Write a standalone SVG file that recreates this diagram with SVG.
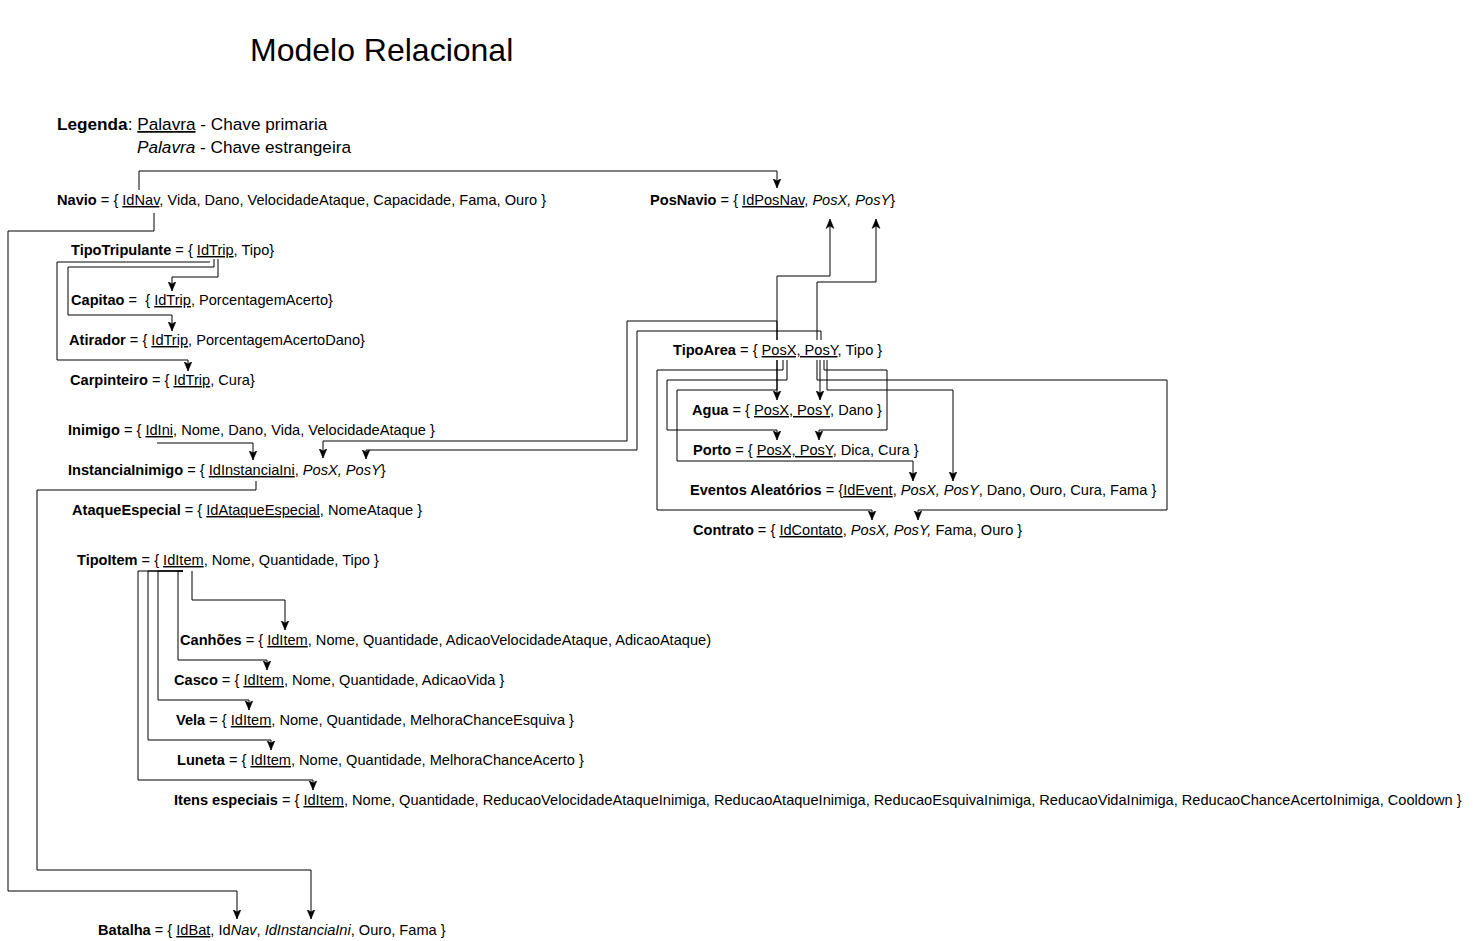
<svg xmlns="http://www.w3.org/2000/svg" width="1476" height="941" viewBox="0 0 1476 941">
<style>
text{font-family:"Liberation Sans",Arial,Helvetica,sans-serif;fill:#000;white-space:pre}
.t{font-size:14.6px}
.b{font-weight:bold}
.u{text-decoration:underline}
.i{font-style:italic}
.e{fill:none;stroke:#000;stroke-width:1;marker-end:url(#arr)}
</style>
<defs>
<marker id="arr" markerUnits="userSpaceOnUse" markerWidth="10" markerHeight="10" viewBox="0 0 10 10" refX="9.5" refY="5" orient="auto">
<path d="M0,1 L9.5,5 L0,9 L2.5,5 z" fill="#000" stroke="#000" stroke-width="0.5" stroke-linejoin="miter"/>
</marker>
</defs>
<rect width="1476" height="941" fill="#fff"/>
<g id="title"><text x="250" y="61" style="font-size:32px">Modelo Relacional</text></g>
<g id="legenda">
<text x="57" y="130" style="font-size:17.2px"><tspan class="b">Legenda</tspan>: <tspan class="u">Palavra</tspan> - Chave primaria</text>
<text x="137" y="153" style="font-size:17.2px"><tspan class="i">Palavra</tspan> - Chave estrangeira</text>
</g>
<g id="connectors">
<path class="e" d="M139,190 V171 H777 V188"/>
<path class="e" d="M154,213 V231 H8 V891 H237 V919"/>
<path class="e" d="M256,481 V490 H37 V870 H311 V919"/>
<path class="e" d="M157,443 H253 V460"/>
<path class="e" d="M777,340 V321 H627 V441 H323 V458"/>
<path class="e" d="M821,340 V331 H637 V450 H366 V459"/>
<path class="e" d="M777,340 V276 H830 V219"/>
<path class="e" d="M817,340 V282 H876 V219"/>
<path class="e" d="M777,360 V400"/>
<path class="e" d="M820,360 V400"/>
<path class="e" d="M783,360 V370 H657 V510 H872 V520"/>
<path class="e" d="M787,360 V380 H667 V430 H777 V440"/>
<path class="e" d="M777,360 V390 H677 V461 H913 V481"/>
<path class="e" d="M817,360 V380 H1167 V510 H918 V520"/>
<path class="e" d="M824,360 V370 H887 V430 H819 V440"/>
<path class="e" d="M827,360 V390 H953 V481"/>
<path class="e" d="M218,259 V277 H172 V291"/>
<path class="e" d="M214,259 V267 H68 V315 H172 V331"/>
<path class="e" d="M210,262 H57 V360 H188 V371"/>
<path class="e" d="M192,571 V600 H285 V630"/>
<path class="e" d="M183,571 H178 V660 H267 V670"/>
<path class="e" d="M183,571 H158 V700 H249 V710"/>
<path class="e" d="M183,571 H148 V740 H271 V750"/>
<path class="e" d="M183,571 H138 V780 H313 V790"/>
</g>
<g id="navio"><text class="t" x="57" y="205"><tspan class="b">Navio</tspan> = { <tspan class="u">IdNav</tspan>, Vida, Dano, VelocidadeAtaque, Capacidade, Fama, Ouro }</text></g>
<g id="posnavio"><text class="t" x="650" y="205"><tspan class="b">PosNavio</tspan> = { <tspan class="u">IdPosNav</tspan>, <tspan class="i">PosX, PosY</tspan>}</text></g>
<g id="tipotripulante"><text class="t" x="71" y="255"><tspan class="b">TipoTripulante</tspan> = { <tspan class="u">IdTrip</tspan>, Tipo}</text></g>
<g id="capitao"><text class="t" x="71" y="305"><tspan class="b">Capitao</tspan> =  { <tspan class="u">IdTrip</tspan>, PorcentagemAcerto}</text></g>
<g id="atirador"><text class="t" x="69" y="345"><tspan class="b">Atirador</tspan> = { <tspan class="u">IdTrip</tspan>, PorcentagemAcertoDano}</text></g>
<g id="carpinteiro"><text class="t" x="70" y="385"><tspan class="b">Carpinteiro</tspan> = { <tspan class="u">IdTrip</tspan>, Cura}</text></g>
<g id="inimigo"><text class="t" x="68" y="435"><tspan class="b">Inimigo</tspan> = { <tspan class="u">IdIni</tspan>, Nome, Dano, Vida, VelocidadeAtaque }</text></g>
<g id="instanciainimigo"><text class="t" x="68" y="475"><tspan class="b">InstanciaInimigo</tspan> = { <tspan class="u">IdInstanciaIni</tspan>, <tspan class="i">PosX, PosY</tspan>}</text></g>
<g id="ataqueespecial"><text class="t" x="72" y="515"><tspan class="b">AtaqueEspecial</tspan> = { <tspan class="u">IdAtaqueEspecial</tspan>, NomeAtaque }</text></g>
<g id="tipoitem"><text class="t" x="77" y="565"><tspan class="b">TipoItem</tspan> = { <tspan class="u">IdItem</tspan>, Nome, Quantidade, Tipo }</text></g>
<g id="canhoes"><text class="t" x="180" y="645"><tspan class="b">Canhões</tspan> = { <tspan class="u">IdItem</tspan>, Nome, Quantidade, AdicaoVelocidadeAtaque, AdicaoAtaque)</text></g>
<g id="casco"><text class="t" x="174" y="685"><tspan class="b">Casco</tspan> = { <tspan class="u">IdItem</tspan>, Nome, Quantidade, AdicaoVida }</text></g>
<g id="vela"><text class="t" x="176" y="725"><tspan class="b">Vela</tspan> = { <tspan class="u">IdItem</tspan>, Nome, Quantidade, MelhoraChanceEsquiva }</text></g>
<g id="luneta"><text class="t" x="177" y="765"><tspan class="b">Luneta</tspan> = { <tspan class="u">IdItem</tspan>, Nome, Quantidade, MelhoraChanceAcerto }</text></g>
<g id="itensespeciais"><text class="t" x="174" y="805"><tspan class="b">Itens especiais</tspan> = { <tspan class="u">IdItem</tspan>, Nome, Quantidade, ReducaoVelocidadeAtaqueInimiga, ReducaoAtaqueInimiga, ReducaoEsquivaInimiga, ReducaoVidaInimiga, ReducaoChanceAcertoInimiga, Cooldown }</text></g>
<g id="batalha"><text class="t" x="98" y="935"><tspan class="b">Batalha</tspan> = { <tspan class="u">IdBat</tspan>, Id<tspan class="i">Nav</tspan>, <tspan class="i">IdInstanciaIni</tspan>, Ouro, Fama }</text></g>
<g id="tipoarea"><text class="t" x="673" y="355"><tspan class="b">TipoArea</tspan> = { <tspan class="u">PosX, PosY</tspan>, Tipo }</text></g>
<g id="agua"><text class="t" x="692" y="415"><tspan class="b">Agua</tspan> = { <tspan class="u">PosX, PosY</tspan>, Dano }</text></g>
<g id="porto"><text class="t" x="693" y="455"><tspan class="b">Porto</tspan> = { <tspan class="u">PosX, PosY</tspan>, Dica, Cura }</text></g>
<g id="eventos"><text class="t" x="690" y="495"><tspan class="b">Eventos Aleatórios</tspan> = {<tspan class="u">IdEvent</tspan>, <tspan class="i">PosX, PosY</tspan>, Dano, Ouro, Cura, Fama }</text></g>
<g id="contrato"><text class="t" x="693" y="535"><tspan class="b">Contrato</tspan> = { <tspan class="u">IdContato</tspan>, <tspan class="i">PosX, PosY,</tspan> Fama, Ouro }</text></g>
</svg>
